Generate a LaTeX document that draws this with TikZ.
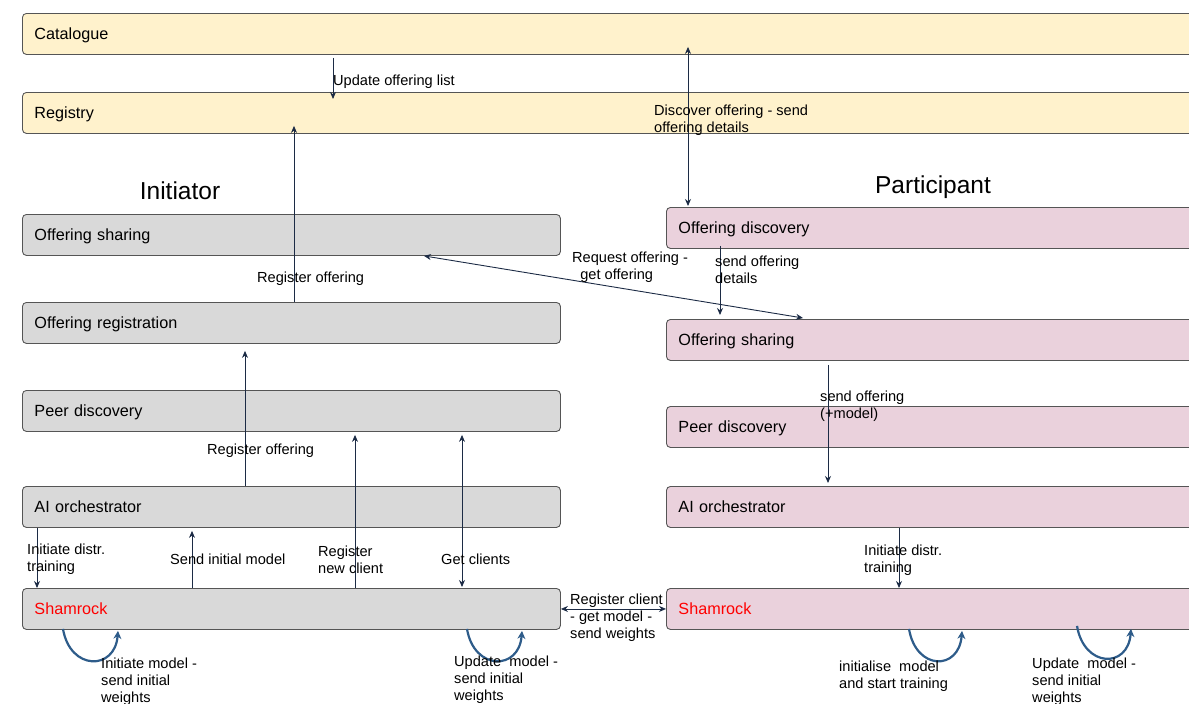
\documentclass[tikz,border=0pt]{standalone}
\usepackage{fontspec}
\setmainfont{Liberation Sans}
\usetikzlibrary{arrows.meta,calc}

\definecolor{catfill}{HTML}{FFF2CC}
\definecolor{inifill}{HTML}{D9D9D9}
\definecolor{parfill}{HTML}{EAD1DC}
\definecolor{boxline}{HTML}{555555}
\definecolor{arrowcol}{HTML}{1C2B45}
\definecolor{loopcol}{HTML}{2E5C8A}

\tikzset{
  box/.style={draw=boxline, line width=0.9pt, rounded corners=4pt,
    minimum height=41pt, anchor=north west, inner xsep=12pt, inner ysep=0pt,
    text height=14pt, text depth=3pt,
    align=left, font=\fontsize{16.2}{19}\selectfont},
  catbox/.style={box, fill=catfill, text width=1176pt},
  inibox/.style={box, fill=inifill, text width=514pt},
  parbox/.style={box, fill=parfill, text width=576pt},
  title/.style={font=\fontsize{24.5}{28}\selectfont},
  lbl/.style={anchor=north west, inner sep=0pt, align=left,
    font=\fontsize{14.6}{17}\selectfont},
  arr/.style={draw=arrowcol, line width=0.9pt,
    -{Stealth[length=7pt,width=6pt]}},
  darr/.style={draw=arrowcol, line width=0.9pt,
    {Stealth[length=7pt,width=6pt]}-{Stealth[length=7pt,width=6pt]}},
  loop/.style={draw=loopcol, line width=2.2pt,
    -{Stealth[length=8pt,width=8pt]}},
}

\begin{document}
\begin{tikzpicture}[x=1pt,y=-1pt]
\useasboundingbox (0,0) rectangle (1189,704);
\clip (0,0) rectangle (1189,704);

% shared services
\node[catbox] (cat) at (22,13) {Catalogue};
\node[catbox] (reg) at (22,92) {Registry};

% column titles
\node[title] (tini) at (180,191) {Initiator};
\node[title] (tpar) at (933,187) {Participant};

% initiator stack
\node[inibox] (iOS) at (22,214) {Offering sharing};
\node[inibox] (iOR) at (22,302) {Offering registration};
\node[inibox] (iPD) at (22,390) {Peer discovery};
\node[inibox] (iAI) at (22,486) {AI orchestrator};
\node[inibox] (iSh) at (22,588) {\textcolor{red}{Shamrock}};

% participant stack
\node[parbox] (pOD) at (666,207) {Offering discovery};
\node[parbox] (pOS) at (666,319) {Offering sharing};
\node[parbox] (pPD) at (666,406) {Peer discovery};
\node[parbox] (pAI) at (666,486) {AI orchestrator};
\node[parbox] (pSh) at (666,588) {\textcolor{red}{Shamrock}};

% connectors
\draw[arr] ($(cat.south west)+(311,3)$) -- ($(reg.north west)+(311,7)$);
\draw[arr] ($(iOR.north west)+(272,0)$) -- ($(reg.south west)+(272,-8)$);
\draw[darr] ($(pOD.north west |- cat.south)+(22,-8)$) -- ($(pOD.north west)+(22,-1)$);
\draw[arr] ($(pOD.south west)+(54,-3)$) -- ($(pOS.north west)+(54,-4)$);
\draw[darr] ($(iOS.south west)+(402,0)$) -- ($(pOS.north west)+(137,-1)$);
\draw[arr] ($(pOS.south west)+(162,4)$) -- ($(pAI.north west)+(162,-3)$);
\draw[arr] ($(iAI.north west)+(223,0)$) -- ($(iOR.south west)+(223,7)$);
\draw[arr] ($(iSh.north west)+(333,0)$) -- ($(iPD.south west)+(333,3)$);
\draw[darr] ($(iPD.south west)+(440,3)$) -- ($(iSh.north west)+(440,-1)$);
\draw[arr] ($(iAI.south west)+(15,0)$) -- ($(iSh.north west)+(15,0)$);
\draw[arr] ($(iSh.north west)+(170,0)$) -- ($(iAI.south west)+(170,3)$);
\draw[darr] (iSh.east) -- (pSh.west);
\draw[arr] ($(pAI.south west)+(233,0)$) -- ($(pSh.north west)+(233,0)$);

% self loops under Shamrock
\draw[loop] ($(iSh.south west)+(41,-1)$) .. controls +(7,42) and +(-3,40) .. ($(iSh.south west)+(96,1)$);
\draw[loop] ($(iSh.south west)+(445,-1)$) .. controls +(7,42) and +(-3,40) .. ($(iSh.south west)+(500,1)$);
\draw[loop] ($(pSh.south west)+(243,-1)$) .. controls +(7,42) and +(-3,40) .. ($(pSh.south west)+(296,1)$);
\draw[loop] ($(pSh.south west)+(411,-4)$) .. controls +(7,42) and +(-3,40) .. ($(pSh.south west)+(465,-1)$);

% labels
\node[lbl] (l1) at (333,75) {Update offering list};
\node[lbl] (l2) at (257,272) {Register offering};
\node[lbl] (l3) at (654,105) {Discover offering - send\\offering details};
\node[lbl] (l4) at (715,256) {send offering\\details};
\node[lbl] (l5) at (572,252) {Request offering -\\\ \ get offering};
\node[lbl] (l6) at (820,391) {send offering\\(+model)};
\node[lbl] (l7) at (207,444) {Register offering};
\node[lbl] (l8) at (27,544) {Initiate distr.\\training};
\node[lbl] (l9) at (170,554) {Send initial model};
\node[lbl] (l10) at (318,546) {Register\\new client};
\node[lbl] (l11) at (441,554) {Get clients};
\node[lbl] (l12) at (570,594) {Register client\\- get model -\\send weights};
\node[lbl] (l13) at (864,545) {Initiate distr.\\training};
\node[lbl] (l14) at (101,658) {Initiate model -\\send initial\\weights};
\node[lbl] (l15) at (454,656) {Update\ \ model -\\send initial\\weights};
\node[lbl] (l16) at (839,661) {initialise\ \ model\\and start training};
\node[lbl] (l17) at (1032,658) {Update\ \ model -\\send initial\\weights};
\end{tikzpicture}
\end{document}
